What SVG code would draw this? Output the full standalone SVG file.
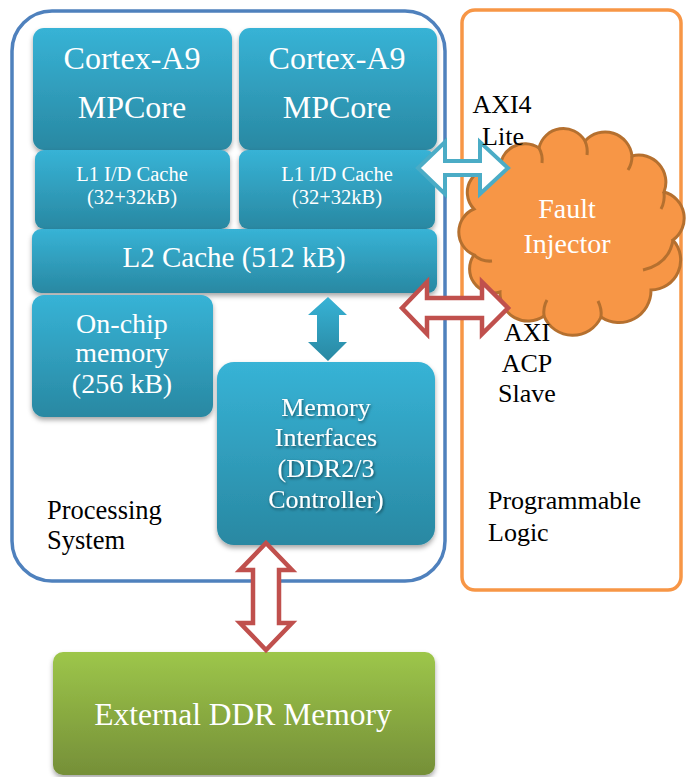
<svg xmlns="http://www.w3.org/2000/svg" width="688" height="777" viewBox="0 0 688 777">
<defs>
<linearGradient id="gBlue" x1="0" y1="0" x2="0" y2="1">
<stop offset="0" stop-color="#37b3d6"/>
<stop offset="1" stop-color="#2988a2"/>
</linearGradient>
<linearGradient id="gGreen" x1="0" y1="0" x2="0" y2="1">
<stop offset="0" stop-color="#9dc64a"/>
<stop offset="1" stop-color="#758f38"/>
</linearGradient>
<filter id="shadow" x="-10%" y="-10%" width="120%" height="130%">
<feDropShadow dx="0" dy="3" stdDeviation="2.5" flood-color="#000" flood-opacity="0.35"/>
</filter>
<filter id="tshadow" x="-20%" y="-20%" width="140%" height="160%">
<feDropShadow dx="1" dy="1.5" stdDeviation="1.5" flood-color="#000" flood-opacity="0.55"/>
</filter>
<style>
.box{fill:url(#gBlue);filter:url(#shadow);}
text{font-family:'Liberation Serif','DejaVu Serif',serif;}
.wt{fill:#ffffff;text-anchor:middle;}
.bt{fill:#000000;}
.bc{text-anchor:middle;}
.redArrow{fill:#ffffff;stroke:#c0504d;stroke-width:4.5;stroke-linejoin:miter;}
.cyanArrow{fill:#ffffff;stroke:#4bacc6;stroke-width:4;stroke-linejoin:miter;}
</style>
</defs>

<g id="processing-system">
<rect x="12" y="11" width="433" height="570" rx="40" ry="40" fill="#ffffff" stroke="#4f81bd" stroke-width="3.5"/>
<text class="bt" x="47" y="519" font-size="26.5">Processing</text>
<text class="bt" x="47" y="549" font-size="26.5">System</text>
</g>

<g id="programmable-logic">
<rect x="462" y="10" width="219" height="580" rx="13" ry="13" fill="#ffffff" stroke="#f79646" stroke-width="3.5"/>
<text class="bt" x="488" y="509" font-size="26">Programmable</text>
<text class="bt" x="488" y="541" font-size="26">Logic</text>
</g>

<g id="cortex-a9-1">
<rect class="box" x="33" y="28" width="199" height="122" rx="11"/>
<text class="wt" x="132" y="69" font-size="32">Cortex-A9</text>
<text class="wt" x="132" y="118" font-size="32">MPCore</text>
</g>
<g id="cortex-a9-2">
<rect class="box" x="239" y="28" width="198" height="122" rx="11"/>
<text class="wt" x="337" y="69" font-size="32">Cortex-A9</text>
<text class="wt" x="337" y="118" font-size="32">MPCore</text>
</g>
<g id="l1-cache-1">
<rect class="box" x="35" y="150" width="195" height="79" rx="9"/>
<text class="wt" x="132" y="181" font-size="20.5">L1 I/D Cache</text>
<text class="wt" x="132" y="204" font-size="20.5">(32+32kB)</text>
</g>
<g id="l1-cache-2">
<rect class="box" x="239" y="150" width="196" height="79" rx="9"/>
<text class="wt" x="337" y="181" font-size="20.5">L1 I/D Cache</text>
<text class="wt" x="337" y="204" font-size="20.5">(32+32kB)</text>
</g>
<g id="l2-cache">
<rect class="box" x="32" y="229" width="405" height="64" rx="9"/>
<text class="wt" x="234" y="267" font-size="29">L2 Cache (512 kB)</text>
</g>
<g id="on-chip-memory">
<rect class="box" x="32" y="295" width="181" height="122" rx="12"/>
<text class="wt" x="122" y="333" font-size="28">On-chip</text>
<text class="wt" x="122" y="362" font-size="28">memory</text>
<text class="wt" x="122" y="393" font-size="28">(256 kB)</text>
</g>
<g id="memory-interfaces">
<rect class="box" x="217" y="362" width="218" height="183" rx="17"/>
<g filter="url(#tshadow)">
<text class="wt" x="326" y="416" font-size="26">Memory</text>
<text class="wt" x="326" y="446" font-size="26">Interfaces</text>
<text class="wt" x="326" y="477" font-size="26">(DDR2/3</text>
<text class="wt" x="326" y="508" font-size="26">Controller)</text>
</g>
</g>

<g id="external-ddr-memory">
<rect x="53" y="652" width="382" height="123" rx="10" fill="url(#gGreen)" filter="url(#shadow)"/>
<text class="wt" x="243" y="725" font-size="31.5">External DDR Memory</text>
</g>

<g id="fault-injector">
<path d="M474,209 A24,24 0 0 1 500,170 A25,25 0 0 1 539,148 A25,25 0 0 1 585,141 A27,27 0 0 1 632,156 A27,27 0 0 1 664,192 A27,27 0 0 1 673,240 A30,30 0 0 1 651,290 A32,32 0 0 1 601,317 A31,31 0 0 1 544,316 A28,28 0 0 1 500,292 A24,24 0 0 1 474,255 A25,25 0 0 1 474,209 Z" fill="#f79646" stroke="#b5702f" stroke-width="3"/>
<g fill="none" stroke="#b5702f" stroke-width="3">
<path d="M539,148 Q543,155 542,163"/>
<path d="M585,141 Q588,148 587,155"/>
<path d="M632,156 Q632,164 628,170"/>
<path d="M664,192 Q665,202 661,209"/>
<path d="M673,240 Q669,264 643,270"/>
<path d="M601,317 Q602,309 598,301"/>
<path d="M544,316 Q543,307 547,300"/>
<path d="M474,255 Q482,262 492,261"/>
</g>
<text class="wt" x="567" y="218" font-size="28">Fault</text>
<text class="wt" x="567" y="253" font-size="28">Injector</text>
</g>

<g id="connectors">
<path class="cyanArrow" d="M418,168 L445,142 L445,161 L480,161 L480,142 L508,168 L480,194 L480,175 L445,175 L445,194 Z"/>
<path class="redArrow" d="M402,308 L427,282 L427,298 L482,298 L482,282 L508,308 L482,334 L482,318 L427,318 L427,334 Z"/>
<path fill="url(#gBlue)" d="M328,297 L347,315 L339,315 L339,342 L347,342 L328,361 L308,342 L317,342 L317,315 L308,315 Z"/>
<path class="redArrow" d="M266,543 L292,570 L279,570 L279,623 L292,623 L266,650 L240,623 L253,623 L253,570 L240,570 Z"/>
</g>

<g id="bus-labels">
<text class="bt bc" x="502" y="113" font-size="26">AXI4</text>
<text class="bt bc" x="503" y="145" font-size="26">Lite</text>
<text class="bt bc" x="527" y="341" font-size="26">AXI</text>
<text class="bt bc" x="527" y="372" font-size="26">ACP</text>
<text class="bt bc" x="527" y="402" font-size="26">Slave</text>
</g>
</svg>
